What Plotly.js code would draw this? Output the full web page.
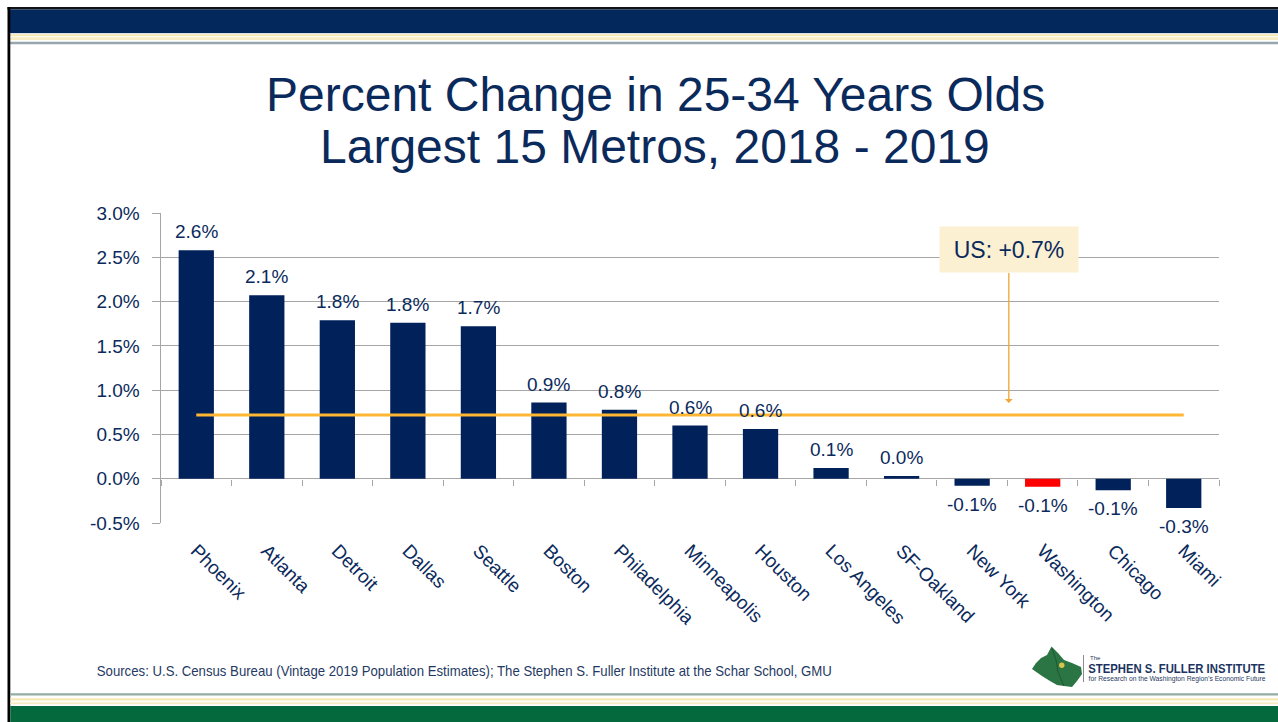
<!DOCTYPE html>
<html>
<head>
<meta charset="utf-8">
<script src="https://cdn.plot.ly/plotly-3.0.1.min.js"></script>
<style>
  html, body { margin: 0; padding: 0; background: #ffffff; }
  #chart { width: 1278px; height: 722px; }
</style>
</head>
<body>
<div id="chart"></div>
<script>
// ---- data ----
const cities = ['Phoenix', 'Atlanta', 'Detroit', 'Dallas', 'Seattle', 'Boston', 'Philadelphia',
  'Minneapolis', 'Houston', 'Los Angeles', 'SF-Oakland', 'New York', 'Washington', 'Chicago', 'Miami'];
const pctChange = [2.58, 2.07, 1.79, 1.76, 1.72, 0.86, 0.78, 0.60, 0.56, 0.12, 0.03, -0.08, -0.09, -0.13, -0.33];
const highlightCity = 'Washington';
const usChange = 0.72;
const usLabel = 'US: +0.7%';
const yTickVals = [-0.5, 0, 0.5, 1.0, 1.5, 2.0, 2.5, 3.0];
const titleLines = ['Percent Change in 25-34 Years Olds', 'Largest 15 Metros, 2018 - 2019'];
const sourceText = 'Sources: U.S. Census Bureau (Vintage 2019 Population Estimates); The Stephen S. Fuller Institute at the Schar School, GMU';
const logoName = 'STEPHEN S. FULLER INSTITUTE';
const logoTag = 'for Research on the Washington Region\u2019s Economic Future';

// ---- layout helpers ----
const W = 1278, H = 722, ML = 161, MR = 59, MT = 213, MB = 199;
const PW = W - ML - MR, PH = H - MT - MB;
const px = x => (x - ML) / PW;
const py = y => (H - MB - y) / PH;
const rect = (x0, y0, x1, y1, color) => ({
  type: 'rect', xref: 'paper', yref: 'paper',
  x0: px(x0), x1: px(x1), y0: py(y0), y1: py(y1),
  fillcolor: color, line: { width: 0 }, layer: 'above'
});

const NAVY = '#00215A';
const TEXT = '#0B2A5C';
const FONT = 'Liberation Sans, Arial, sans-serif';

const barColors = cities.map(c => c === highlightCity ? '#FF0000' : NAVY);

const bars = {
  type: 'bar', x: cities, y: pctChange,
  marker: { color: barColors, line: { width: 0 } },
  hoverinfo: 'x+y', showlegend: false
};

const usLine = {
  type: 'scatter', mode: 'lines', x: cities, y: cities.map(() => usChange),
  xaxis: 'x2', yaxis: 'y',
  line: { color: '#FDB733', width: 3 }, hoverinfo: 'skip', showlegend: false
};

// value labels placed through the axes from the data
const valueLabels = cities.map((c, i) => ({
  xref: 'x', yref: 'y', x: c, y: pctChange[i],
  text: pctChange[i].toFixed(1) + '%', showarrow: false,
  xanchor: 'center', yanchor: pctChange[i] >= 0 ? 'bottom' : 'top',
  yshift: pctChange[i] >= 0 ? 6 : -6,
  font: { family: FONT, size: 19, color: TEXT }
}));

// decorations
const pts = [[1051.5,646.5],[1058,653],[1064,660],[1072,663],[1081,667],[1082,674],[1077,681],[1072,687],
  [1064,686],[1057,685],[1050,681],[1042,676],[1032,669],[1036,663],[1041,658],[1047,655]];
const mapPath = 'M ' + pts.map(p => px(p[0]) + ',' + py(p[1])).join(' L ') + ' Z';
const innerPath = 'M ' + [[1052,648],[1056,660],[1058,672],[1064,686]].map(p => px(p[0]) + ',' + py(p[1])).join(' L ');

const shapes = [
  rect(7.5, 7, W, 9.5, '#101418'),
  rect(10, 9.5, W, 33, '#02285C'),
  rect(10, 33, W, 34.3, '#DCE2E6'),
  rect(10, 34.3, W, 36.3, '#F6E9B4'),
  rect(10, 37.3, W, 40, '#F8EDC2'),
  rect(10, 41.7, W, 44.3, '#9AA6AE'),
  rect(7.5, 7, 10.3, H, '#000000'),
  rect(10.3, 693.3, W, 695.6, '#93ADA4'),
  rect(10.3, 698.3, W, 700.6, '#F6E9B4'),
  rect(10.3, 702.3, W, 704.2, '#F8EDC2'),
  rect(10.3, 706, W, H, '#046A3E'),
  { type: 'path', xref: 'paper', yref: 'paper', path: mapPath, fillcolor: '#2B7444', line: { width: 0 } },
  { type: 'path', xref: 'paper', yref: 'paper', path: innerPath, line: { color: '#1C5A33', width: 1 } },
  { type: 'circle', xref: 'paper', yref: 'paper', x0: px(1059), x1: px(1064.5), y0: py(662.5), y1: py(668),
    fillcolor: '#D9C24A', line: { width: 0 } },
  { type: 'line', xref: 'paper', yref: 'paper', x0: px(1083.5), x1: px(1083.5), y0: py(655), y1: py(682),
    line: { color: '#8C8C8C', width: 1 } }
];

// texts that are condensed after drawing: [text, left px, right px]
const condensed = [[sourceText, 97, 832], [logoName, 1088, 1265], [logoTag, 1088, 1265]];

const annotations = valueLabels.concat([
  { xref: 'paper', yref: 'paper', x: px(655), y: py(94), xanchor: 'center', yanchor: 'middle',
    text: titleLines[0], showarrow: false, font: { family: FONT, size: 48, color: TEXT } },
  { xref: 'paper', yref: 'paper', x: px(655), y: py(146), xanchor: 'center', yanchor: 'middle',
    text: titleLines[1], showarrow: false, font: { family: FONT, size: 48, color: TEXT } },
  { xref: 'x', yref: 'y', x: 11.52, y: 0.855, ax: 0, ay: -153, text: usLabel,
    showarrow: true, arrowhead: 1, arrowsize: 1, arrowwidth: 1.3, arrowcolor: '#F2A634', standoff: 0,
    bgcolor: '#FCF0D3', width: 136, height: 43, font: { family: FONT, size: 23, color: TEXT } },
  { xref: 'paper', yref: 'paper', x: px((97 + 832) / 2), y: py(670.5), xanchor: 'center', yanchor: 'middle',
    text: sourceText, showarrow: false, font: { family: FONT, size: 15, color: '#1F3A64' } },
  { xref: 'paper', yref: 'paper', x: px(1088), y: py(657.5), xanchor: 'left', yanchor: 'middle',
    text: 'The', showarrow: false, font: { family: FONT, size: 6, color: '#1F3A64' } },
  { xref: 'paper', yref: 'paper', x: px((1088 + 1265) / 2), y: py(668.5), xanchor: 'center', yanchor: 'middle',
    text: '<b>' + logoName + '</b>', showarrow: false, font: { family: FONT, size: 12, color: '#1B3460' } },
  { xref: 'paper', yref: 'paper', x: px((1088 + 1265) / 2), y: py(679), xanchor: 'center', yanchor: 'middle',
    text: logoTag, showarrow: false, font: { family: FONT, size: 7, color: '#1F3A64' } }
]);

const layout = {
  width: W, height: H,
  margin: { l: ML, r: MR, t: MT, b: MB, pad: 0 },
  paper_bgcolor: '#ffffff', plot_bgcolor: '#ffffff',
  showlegend: false, bargap: 0.5,
  font: { family: FONT, color: TEXT },
  xaxis: {
    type: 'category', range: [-0.5, cities.length - 0.5], tickangle: 45,
    tickfont: { family: FONT, size: 19, color: TEXT },
    showgrid: false, showline: false, ticks: '', zeroline: false, ticklabelstandoff: 12
  },
  xaxis2: {
    type: 'category', overlaying: 'x', anchor: 'free',
    position: (0 - yTickVals[0]) / (yTickVals[yTickVals.length - 1] - yTickVals[0]),
    range: [-0.5, cities.length - 0.5], side: 'bottom',
    ticks: 'outside', tickson: 'boundaries', ticklen: 6, tickcolor: '#A6A6A6', tickwidth: 1,
    showticklabels: false, showgrid: false, showline: false, zeroline: false
  },
  yaxis: {
    range: [yTickVals[0], yTickVals[yTickVals.length - 1]],
    tickvals: yTickVals, ticktext: yTickVals.map(v => v.toFixed(1) + '%'),
    tickfont: { family: FONT, size: 19, color: TEXT },
    showgrid: true, gridcolor: '#A6A6A6', gridwidth: 1,
    zeroline: true, zerolinecolor: '#A6A6A6', zerolinewidth: 1,
    showline: true, linecolor: '#A6A6A6', linewidth: 1.5,
    ticks: 'outside', ticklen: 8, tickcolor: '#A6A6A6', tickwidth: 1, ticklabelstandoff: 8
  },
  shapes: shapes,
  annotations: annotations
};

Plotly.newPlot('chart', [bars, usLine], layout, { displayModeBar: false, staticPlot: true }).then(gd => {
  gd.querySelectorAll('.annotation-text').forEach(t => {
    condensed.forEach(([txt, x0, x1]) => {
      if (t.textContent === txt) {
        t.setAttribute('textLength', String(x1 - x0));
        t.setAttribute('lengthAdjust', 'spacingAndGlyphs');
        t.querySelectorAll('tspan').forEach(s => {
          s.setAttribute('textLength', String(x1 - x0));
          s.setAttribute('lengthAdjust', 'spacingAndGlyphs');
        });
      }
    });
  });
});
</script>
</body>
</html>
